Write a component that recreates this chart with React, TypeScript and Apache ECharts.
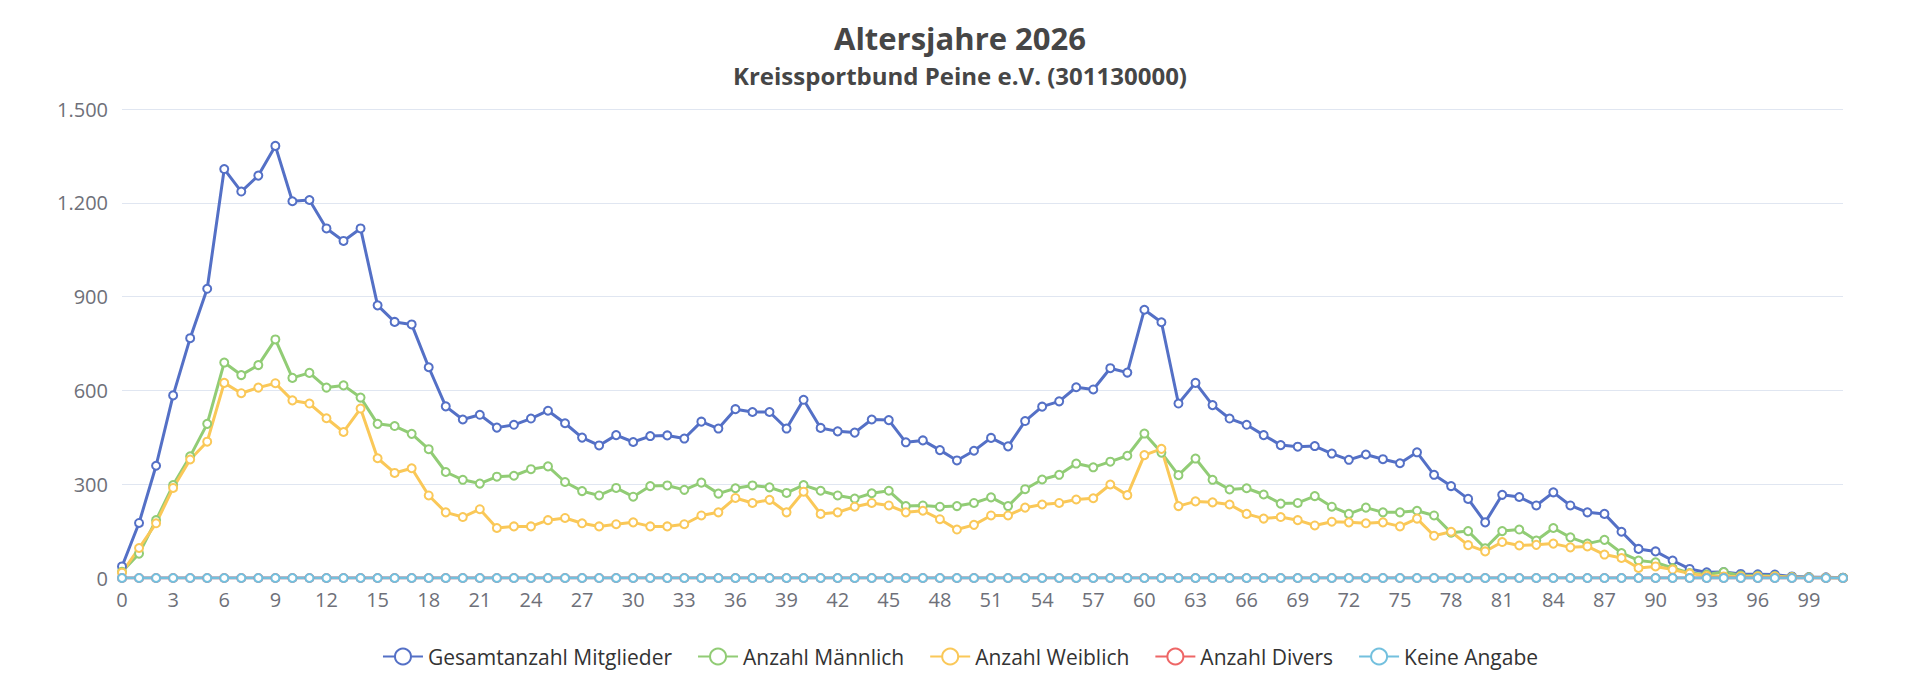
import React, { useEffect, useRef } from "react";
import * as echarts from "echarts";

const ages: string[] = Array.from({ length: 102 }, (_, i) => String(i));

const gesamt = [
  37, 176, 359, 584, 767, 925, 1308, 1236, 1287, 1382,
  1205, 1209, 1118, 1078, 1118, 872, 819, 811, 674, 549,
  507, 522, 481, 490, 510, 535, 495, 449, 424, 457,
  435, 454, 456, 446, 500, 478, 540, 531, 531, 478,
  570, 480, 469, 465, 507, 505, 434, 440, 409, 376,
  407, 448, 421, 502, 548, 565, 610, 603, 671, 657,
  858, 818, 558, 624, 553, 510, 490, 457, 425, 420,
  422, 398, 378, 395, 380, 367, 402, 330, 294, 253,
  178, 266, 259, 232, 274, 232, 210, 205, 148, 93,
  85, 56, 29, 18, 19, 13, 12, 11, 5, 3,
  2, 1,
];

const maennlich = [
  20, 78, 185, 297, 389, 493, 689, 649, 681, 763,
  640, 656, 609, 616, 577, 493, 486, 461, 412, 339,
  314, 302, 324, 327, 348, 357, 307, 278, 264, 288,
  260, 294, 296, 282, 305, 270, 287, 296, 290, 272,
  297, 279, 264, 254, 271, 279, 230, 232, 228, 230,
  240, 258, 230, 284, 315, 330, 366, 354, 372, 391,
  462, 401, 329, 382, 314, 283, 287, 267, 238, 240,
  262, 228, 205, 225, 210, 210, 215, 200, 145, 150,
  95, 150, 155, 120, 160, 130, 110, 122, 80, 56,
  50, 32, 16, 11, 19, 8, 7, 6, 3, 2,
  1, 1,
];

const weiblich = [
  17, 96, 175, 288, 379, 436, 624, 591, 609, 623,
  568, 558, 511, 467, 542, 383, 336, 351, 264, 210,
  195, 220, 160, 165, 165, 185, 192, 175, 165, 172,
  178, 165, 165, 172, 200, 210, 256, 240, 250, 210,
  276, 205, 210, 228, 240, 232, 210, 215, 188, 155,
  170, 200, 200, 225, 235, 240, 251, 255, 299, 265,
  393, 413, 230, 245, 242, 235, 205, 190, 195, 185,
  168, 180, 178, 175, 178, 165, 190, 135, 148, 105,
  85, 115, 104, 106, 110, 98, 101, 75, 64, 32,
  37, 27, 14, 7, 5, 5, 5, 5, 2, 1,
  1, 0,
];

const divers: number[] = ages.map(() => 0);
const keineAngabe: number[] = ages.map(() => 0);

const seriesNames = [
  "Gesamtanzahl Mitglieder",
  "Anzahl Männlich",
  "Anzahl Weiblich",
  "Anzahl Divers",
  "Keine Angabe",
];
const seriesColors = ["#5470c6", "#91cc75", "#fac858", "#ee6666", "#73c0de"];

const FONT = "'Open Sans', 'Noto Sans', sans-serif";

export default function App() {
  const ref = useRef<HTMLDivElement>(null);

  useEffect(() => {
    document.body.style.margin = "0";
    if (!ref.current) return;
    const chart = echarts.init(ref.current, undefined, { renderer: "svg" });
    const allData = [gesamt, maennlich, weiblich, divers, keineAngabe];
    chart.setOption({
      animation: false,
      color: seriesColors,
      textStyle: { fontFamily: FONT },
      title: {
        text: "Altersjahre 2026",
        subtext: "Kreissportbund Peine e.V. (301130000)",
        left: "center",
        top: 17,
        itemGap: 10,
        textStyle: { fontSize: 31, fontWeight: "bold", color: "#464646", fontFamily: FONT },
        subtextStyle: { fontSize: 24, fontWeight: "bold", color: "#464646", fontFamily: FONT },
      },
      legend: {
        bottom: 9,
        left: "center",
        itemWidth: 40,
        itemHeight: 20,
        itemGap: 25,
        textStyle: { fontSize: 21, color: "#333", fontFamily: FONT },
        data: seriesNames,
      },
      grid: { left: 122, right: 77, top: 109, bottom: 103 },
      xAxis: {
        type: "category",
        data: ages,
        boundaryGap: false,
        axisLabel: { interval: 2, fontSize: 20, color: "#6E7079", margin: 11, fontFamily: FONT },
        axisTick: { interval: 2 },
      },
      yAxis: {
        type: "value",
        min: 0,
        max: 1500,
        interval: 300,
        axisLabel: {
          fontSize: 20,
          color: "#6E7079",
          margin: 14,
          fontFamily: FONT,
          formatter: (v: number) => v.toLocaleString("de-DE"),
        },
        splitLine: { lineStyle: { color: "#E0E6F1" } },
      },
      series: seriesNames.map((name, i) => ({
        name,
        type: "line",
        data: allData[i],
        symbol: "emptyCircle",
        symbolSize: 8,
        lineStyle: { width: 3 },
        itemStyle: { borderWidth: 3 },
      })),
    });
    return () => chart.dispose();
  }, []);

  return <div ref={ref} style={{ width: 1920, height: 681 }} />;
}
